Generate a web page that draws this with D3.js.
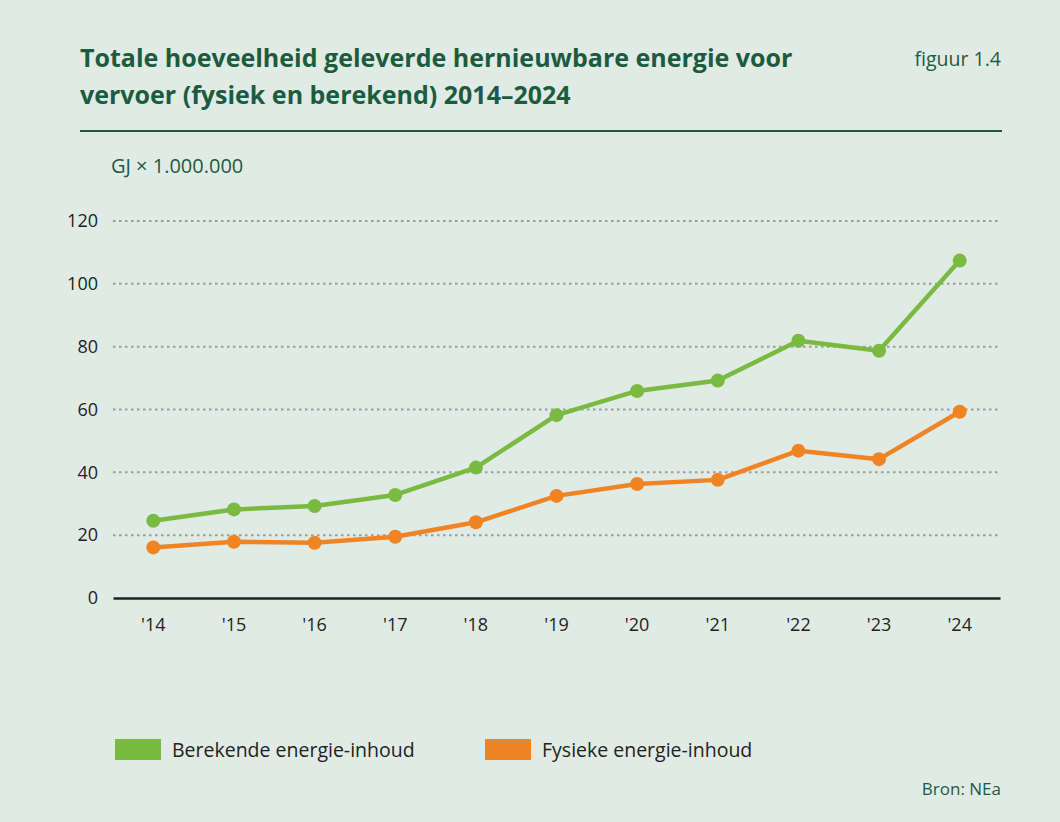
<!DOCTYPE html>
<html><head><meta charset="utf-8">
<script src="https://cdn.jsdelivr.net/npm/d3@7"></script>
<style>
html,body{margin:0;padding:0;background:#e1ebe6;}
svg{display:block;font-family:"Open Sans",sans-serif;}
</style></head>
<body>
<script>
const years = ["'14","'15","'16","'17","'18","'19","'20","'21","'22","'23","'24"];
const berekend = [24.6, 28.2, 29.3, 32.8, 41.5, 58.2, 65.9, 69.2, 81.9, 78.7, 107.4];
const fysiek = [16.1, 17.9, 17.6, 19.5, 24.1, 32.5, 36.3, 37.6, 46.9, 44.2, 59.3];
const yTicks = [0, 20, 40, 60, 80, 100, 120];
const seriesNames = ["Berekende energie-inhoud", "Fysieke energie-inhoud"];
const seriesColors = ["#7aba41", "#f08422"];

const W = 1060, H = 822;
const FONT = "'Open Sans',sans-serif";
const svg = d3.select("body").append("svg").attr("width", W).attr("height", H);
svg.append("rect").attr("width", W).attr("height", H).attr("fill", "#e1ebe6");

const dark = "#1b5b3e";
// Title
const title = svg.append("text").attr("fill", dark).attr("font-weight", 700).attr("font-size", 25);
title.append("tspan").attr("x", 80).attr("y", 67).text("Totale hoeveelheid geleverde hernieuwbare energie voor");
title.append("tspan").attr("x", 80).attr("y", 104).text("vervoer (fysiek en berekend) 2014–2024");
svg.append("text").attr("x", 1001).attr("y", 66).attr("text-anchor", "end").attr("fill", dark)
  .attr("font-size", 19.5).text("figuur 1.4");
svg.append("line").attr("x1", 80).attr("x2", 1002).attr("y1", 131).attr("y2", 131)
  .attr("stroke", dark).attr("stroke-width", 2);
svg.append("text").attr("x", 111).attr("y", 173).attr("fill", dark).attr("font-size", 20).text("GJ × 1.000.000");

const x = d3.scaleBand().domain(years).range([113, 1000]);
const y = d3.scaleLinear().domain([0, 120]).range([598, 221]);

// gridlines
svg.append("g").selectAll("line").data(yTicks.filter(d => d > 0)).join("line")
  .attr("x1", 113).attr("x2", 1000).attr("y1", d => y(d)).attr("y2", d => y(d))
  .attr("stroke", "#9a9c9b").attr("stroke-width", 2).attr("stroke-dasharray", "2.5,3.5");

// y axis
const yAxis = svg.append("g").attr("transform", "translate(113,0)")
  .call(d3.axisLeft(y).tickValues(yTicks).tickSize(0).tickPadding(15));
yAxis.select(".domain").remove();
yAxis.selectAll("text").attr("font-size", 18).attr("fill", "#222").attr("font-family", FONT);

// x axis
const xAxis = svg.append("g").attr("transform", "translate(0,598)")
  .call(d3.axisBottom(x).tickSize(0).tickPadding(20));
xAxis.select(".domain").attr("stroke", "#222").attr("stroke-width", 2.5);
xAxis.selectAll("text").attr("font-size", 18).attr("fill", "#222").attr("font-family", FONT);

const cx = d => x(d) + x.bandwidth() / 2;
[berekend, fysiek].forEach((vals, i) => {
  const pts = years.map((yr, j) => [yr, vals[j]]);
  svg.append("path").datum(pts)
    .attr("d", d3.line().x(d => cx(d[0])).y(d => y(d[1])))
    .attr("fill", "none").attr("stroke", seriesColors[i]).attr("stroke-width", 4.5)
    .attr("stroke-linejoin", "round");
  svg.append("g").selectAll("circle").data(pts).join("circle")
    .attr("cx", d => cx(d[0])).attr("cy", d => y(d[1])).attr("r", 7)
    .attr("fill", seriesColors[i]);
});

// legend
const legX = [115, 485];
seriesNames.forEach((n, i) => {
  svg.append("rect").attr("x", legX[i]).attr("y", 739).attr("width", 46).attr("height", 21).attr("fill", seriesColors[i]);
  svg.append("text").attr("x", legX[i] + 57).attr("y", 757).attr("font-size", 19.5).attr("fill", "#222").text(n);
});

svg.append("text").attr("x", 1001).attr("y", 795).attr("text-anchor", "end").attr("fill", dark)
  .attr("font-size", 17).text("Bron: NEa");
</script>
</body></html>
